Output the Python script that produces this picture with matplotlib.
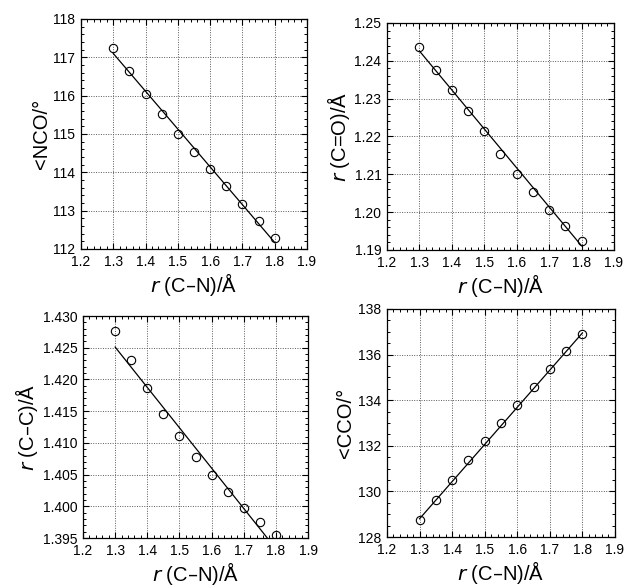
import numpy as np
import matplotlib
matplotlib.use("Agg")
import matplotlib.pyplot as plt
from matplotlib.ticker import MultipleLocator, FormatStrFormatter

plt.rcParams['font.family'] = ['Liberation Sans', 'DejaVu Sans']

# C-N bond length scan
r_cn = [1.30, 1.35, 1.40, 1.45, 1.50, 1.55, 1.60, 1.65, 1.70, 1.75, 1.80]

nco = [117.24, 116.65, 116.04, 115.53, 115.00, 114.54, 114.08, 113.65, 113.18, 112.73, 112.28]
r_co = [1.2437, 1.2377, 1.2322, 1.2267, 1.2214, 1.2155, 1.2101, 1.2054, 1.2006, 1.1963, 1.1925]
r_cc = [1.4277, 1.4230, 1.4187, 1.4145, 1.4111, 1.4077, 1.4049, 1.4022, 1.3998, 1.3976, 1.3954]
cco = [128.73, 129.61, 130.51, 131.36, 132.19, 133.02, 133.80, 134.58, 135.36, 136.15, 136.89]

# straight-line fits (end points)
fit_x = [1.30, 1.80]
fit_nco = [117.10, 112.17]
fit_co = [1.2426, 1.1911]
fit_cc = [1.4251, 1.3933]
fit_cco = [128.80, 136.95]

panels = [
    # rect, y data, fit, ylim, major, minor, fmt, ylabel
    ([0.1292, 0.5751, 0.3604, 0.3925], nco, fit_nco, (112, 118), 1, 0.2, '%d', '<NCO/°'),
    ([0.6172, 0.5734, 0.3620, 0.3874], r_co, fit_co, (1.19, 1.25), 0.01, 0.002, '%.2f', r'$\it{r}$ (C=O)/Å'),
    ([0.1324, 0.0819, 0.3589, 0.3788], r_cc, fit_cc, (1.395, 1.430), 0.005, 0.001, '%.3f', r'$\it{r}$ (C–C)/Å'),
    ([0.6172, 0.0836, 0.3636, 0.3891], cco, fit_cco, (128, 138), 2, 0.5, '%d', '<CCO/°'),
]

fig = plt.figure(figsize=(6.27, 5.86), dpi=100)

for rect, yv, fit, ylim, maj, mnr, fmt, ylab in panels:
    ax = fig.add_axes(rect)
    ax.plot(fit_x, fit, color='black', lw=0.9)
    ax.plot(r_cn, yv, 'o', mfc='none', mec='black', ms=6, mew=0.8)
    ax.set_xlim(1.2, 1.9)
    ax.set_ylim(*ylim)
    ax.xaxis.set_major_locator(MultipleLocator(0.1))
    ax.xaxis.set_minor_locator(MultipleLocator(0.02))
    ax.yaxis.set_major_locator(MultipleLocator(maj))
    ax.yaxis.set_minor_locator(MultipleLocator(mnr))
    ax.xaxis.set_major_formatter(FormatStrFormatter('%.1f'))
    ax.yaxis.set_major_formatter(FormatStrFormatter(fmt))
    ax.grid(True, which='major', color='0.35', lw=0.7, ls=(0, (1, 1.5)))
    ax.tick_params(which='both', direction='in', top=True, right=True, labelsize=10, pad=4)
    ax.tick_params(which='major', length=4, width=0.8)
    ax.tick_params(which='minor', length=2.5, width=0.7)
    for s in ax.spines.values():
        s.set_linewidth(0.9)
    ax.set_xlabel(r'$\it{r}$ (C–N)/Å', fontsize=14.5, labelpad=2)
    ax.set_ylabel(ylab, fontsize=14.5, labelpad=2)

plt.savefig('out.png', dpi=100)
